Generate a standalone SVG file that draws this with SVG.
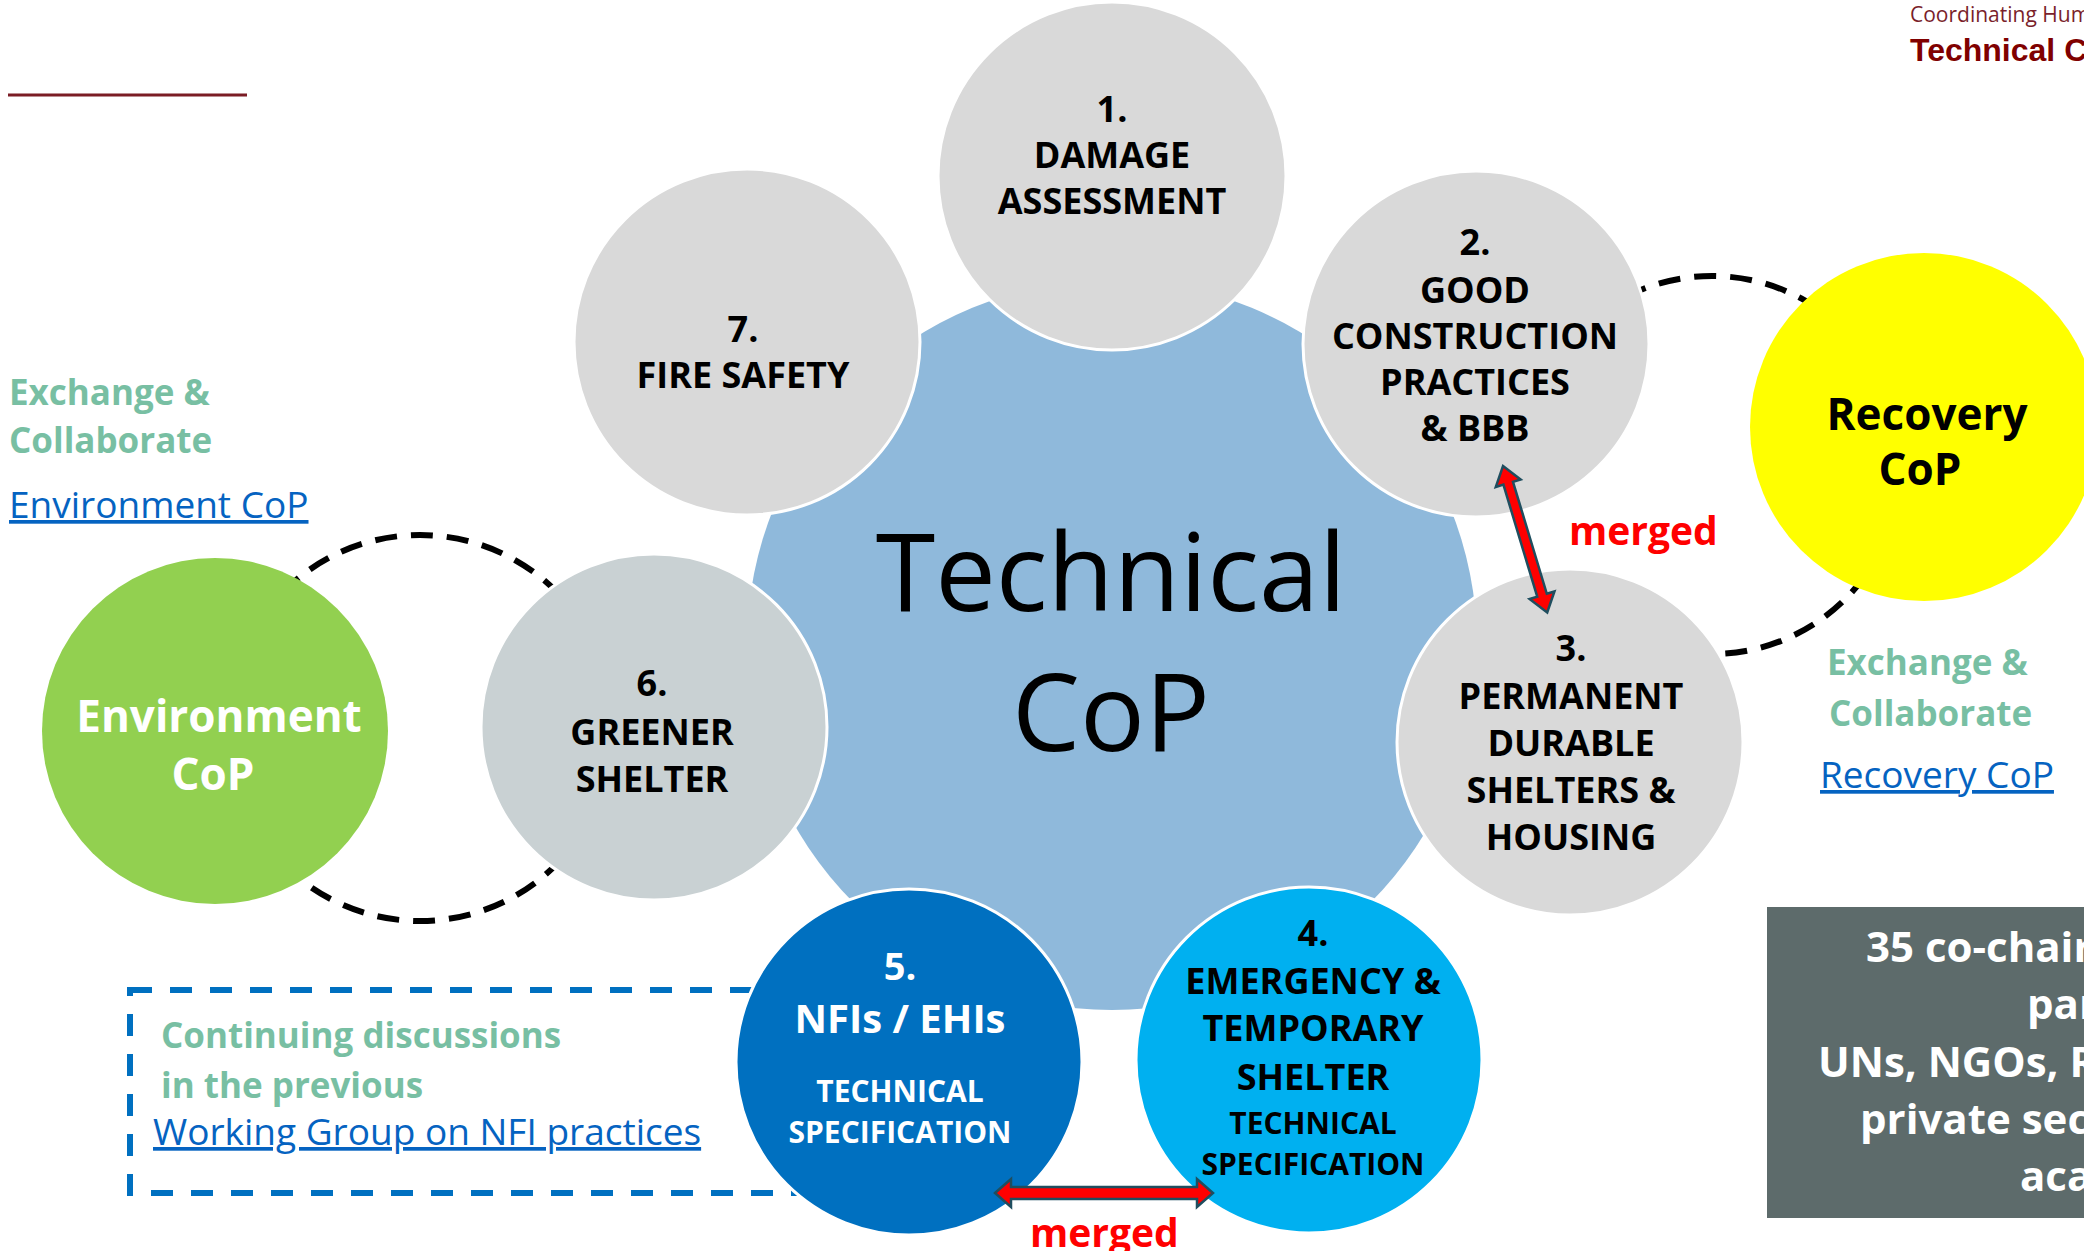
<svg xmlns="http://www.w3.org/2000/svg" width="2084" height="1251" viewBox="0 0 2084 1251">
<defs>
<style>
.t{font-family:"Open Sans","Noto Sans","Liberation Sans",sans-serif;}
.b{font-weight:700;}
.c{text-anchor:middle;}
.lbl{font-family:"Open Sans","Noto Sans","Liberation Sans",sans-serif;font-weight:700;text-anchor:middle;}
.s36{font-size:36px;}
.s30{font-size:30px;}
.s38{font-size:38px;}
.s40{font-size:40px;}
.s44{font-size:44px;}
.k{fill:#000000;}
.w{fill:#FFFFFF;}
.grey{fill:#D9D9D9;stroke:#FFFFFF;stroke-width:3;}
.green{fill:#78BFA3;font-size:35px;}
.link{fill:#0563C1;font-size:37px;text-decoration:underline;}
.dash{fill:none;stroke:#000;stroke-width:6;stroke-dasharray:22 14;}
.arrow{fill:#FF0000;stroke:#1F4E5F;stroke-width:2.5;stroke-linejoin:miter;}
.merged{fill:#FF0000;font-size:39px;}
.box{font-size:42px;fill:#FFFFFF;}
</style>
</defs>
<rect width="2084" height="1251" fill="#FFFFFF"/>

<g id="header">
<line x1="8" y1="95" x2="247" y2="95" stroke="#7B1C25" stroke-width="3"/>
<text class="t" x="1910" y="22" font-size="21" fill="#7A1F2B">Coordinating Humanitarian Shelter</text>
<text x="1910" y="61" font-family="Liberation Sans, Arial, sans-serif" font-weight="700" font-size="32" fill="#800000">Technical CoP</text>
</g>

<g id="connectors">
<circle cx="420" cy="728" r="193" class="dash"/>
<path d="M1548.3,370.5 A189,189 0 1 1 1632.1,636.3" class="dash"/>
<rect x="130" y="990" width="720" height="203" fill="none" stroke="#0070C0" stroke-width="6" stroke-dasharray="22 18"/>
</g>

<g id="technical-cop">
<circle cx="1112" cy="645" r="365" fill="#8FB9DB"/>
<text class="t c" x="1111" y="611" font-size="108" fill="#000">Technical</text>
<text class="t c" x="1111" y="751" font-size="108" fill="#000">CoP</text>
</g>

<g id="node1">
<circle cx="1112" cy="176" r="174" class="grey"/>
<text class="lbl s36 k" x="1112" y="122">1.</text>
<text class="lbl s36 k" x="1112" y="168">DAMAGE</text>
<text class="lbl s36 k" x="1112" y="214">ASSESSMENT</text>
</g>

<g id="node2">
<circle cx="1476" cy="344" r="173" class="grey"/>
<text class="lbl s36 k" x="1475" y="255">2.</text>
<text class="lbl s36 k" x="1475" y="303">GOOD</text>
<text class="lbl s36 k" x="1475" y="349">CONSTRUCTION</text>
<text class="lbl s36 k" x="1475" y="395">PRACTICES</text>
<text class="lbl s36 k" x="1475" y="441">&amp; BBB</text>
</g>

<g id="node3">
<circle cx="1570" cy="742" r="173" class="grey"/>
<text class="lbl s36 k" x="1571" y="661">3.</text>
<text class="lbl s36 k" x="1571" y="709">PERMANENT</text>
<text class="lbl s36 k" x="1571" y="756">DURABLE</text>
<text class="lbl s36 k" x="1571" y="803">SHELTERS &amp;</text>
<text class="lbl s36 k" x="1571" y="850">HOUSING</text>
</g>

<g id="node4">
<circle cx="1309" cy="1060" r="173" fill="#00B0F0" stroke="#FFFFFF" stroke-width="3"/>
<text class="lbl s36 k" x="1313" y="946">4.</text>
<text class="lbl s36 k" x="1313" y="994">EMERGENCY &amp;</text>
<text class="lbl s36 k" x="1313" y="1041">TEMPORARY</text>
<text class="lbl s36 k" x="1313" y="1090">SHELTER</text>
<text class="lbl s30 k" x="1313" y="1134">TECHNICAL</text>
<text class="lbl s30 k" x="1313" y="1175">SPECIFICATION</text>
</g>

<g id="node5">
<circle cx="909" cy="1062" r="173" fill="#0070C0" stroke="#FFFFFF" stroke-width="3"/>
<text class="lbl s38 w" x="900" y="980">5.</text>
<text class="lbl s40 w" x="900" y="1033">NFIs / EHIs</text>
<text class="lbl s30 w" x="900" y="1102">TECHNICAL</text>
<text class="lbl s30 w" x="900" y="1143">SPECIFICATION</text>
</g>

<g id="node6">
<circle cx="654" cy="727" r="173" fill="#C9D1D3" stroke="#FFFFFF" stroke-width="3"/>
<text class="lbl s36 k" x="652" y="696">6.</text>
<text class="lbl s36 k" x="652" y="745">GREENER</text>
<text class="lbl s36 k" x="652" y="792">SHELTER</text>
</g>

<g id="node7">
<circle cx="747" cy="342" r="173" class="grey"/>
<text class="lbl s36 k" x="743" y="342">7.</text>
<text class="lbl s36 k" x="743" y="388">FIRE SAFETY</text>
</g>

<g id="environment-cop">
<circle cx="215" cy="731" r="173" fill="#92D050"/>
<text class="lbl s44 w" x="219" y="732">Environment</text>
<text class="lbl s44 w" x="213" y="790">CoP</text>
</g>

<g id="recovery-cop">
<circle cx="1924" cy="427" r="174" fill="#FFFF00"/>
<text class="lbl s44 k" x="1927" y="430">Recovery</text>
<text class="lbl s44 k" x="1920" y="485">CoP</text>
</g>

<g id="merge-arrows">
<polygon class="arrow" transform="translate(1503,466) rotate(73.2)" points="0,0 18,-13 18,-5 135,-5 135,-13 153,0 135,13 135,5 18,5 18,13"/>
<polygon class="arrow" transform="translate(995,1193)" points="0,0 16,-14 16,-6 202,-6 202,-14 218,0 202,14 202,6 16,6 16,14"/>
<text class="t b merged" x="1569" y="545">merged</text>
<text class="t b merged" x="1030" y="1247">merged</text>
</g>

<g id="left-notes">
<text class="t b green" x="9" y="405">Exchange &amp;</text>
<text class="t b green" x="9" y="453">Collaborate</text>
<text class="t link" x="9" y="518">Environment CoP</text>
</g>

<g id="right-notes">
<text class="t b green" x="1827" y="675">Exchange &amp;</text>
<text class="t b green" x="1829" y="726">Collaborate</text>
<text class="t link" x="1820" y="788">Recovery CoP</text>
</g>

<g id="nfi-note">
<text class="t b green" x="161" y="1048">Continuing discussions</text>
<text class="t b green" x="161" y="1098">in the previous</text>
<text class="t link" x="153" y="1145">Working Group on NFI practices</text>
</g>

<g id="members-box">
<rect x="1767" y="907" width="330" height="311" fill="#5D6B6B"/>
<text class="t b box" x="1866" y="962">35 co-chairs</text>
<text class="t b box" x="2027" y="1019">partners</text>
<text class="t b box" x="1818" y="1077">UNs, NGOs, RCRC</text>
<text class="t b box" x="1860" y="1134">private sector</text>
<text class="t b box" x="2020" y="1191">academia</text>
</g>
</svg>
